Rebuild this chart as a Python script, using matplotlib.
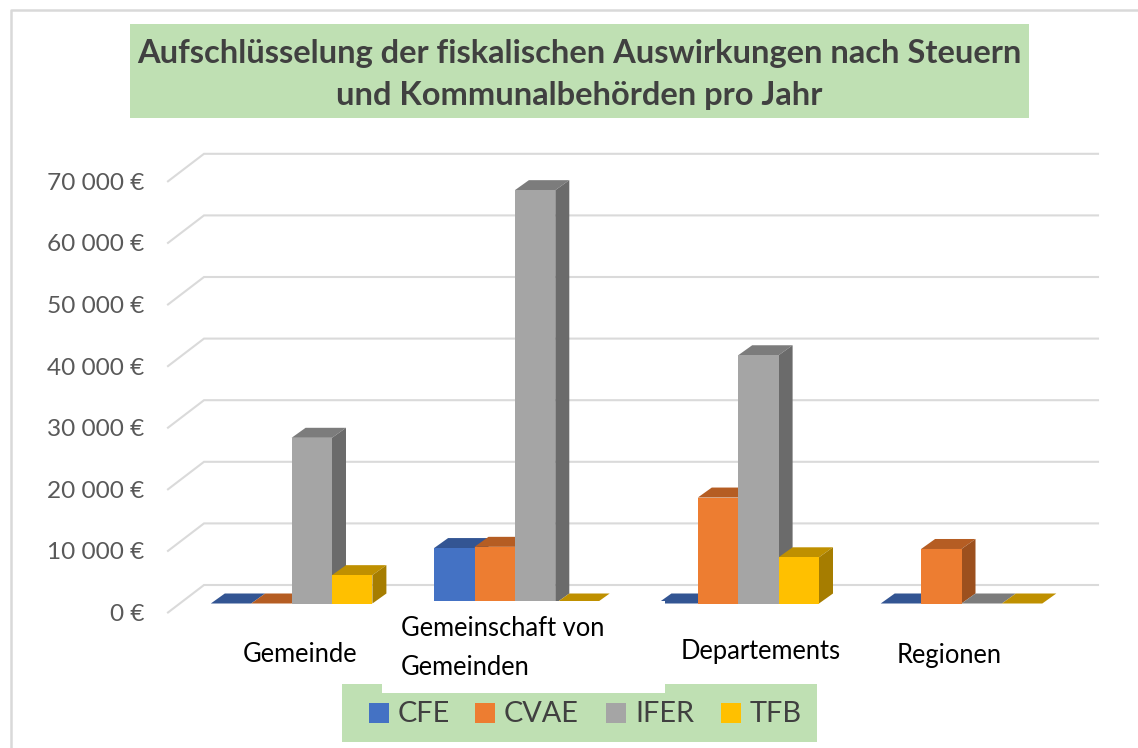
import matplotlib
matplotlib.use("Agg")
import matplotlib.pyplot as plt
from matplotlib.patches import Polygon, Rectangle

categories = ["Gemeinde", "Gemeinschaft von\nGemeinden", "Departements", "Regionen"]
series_names = ["CFE", "CVAE", "IFER", "TFB"]
cfe = [0, 9000, 0, 0]
cvae = [0, 9200, 17200, 8850]
ifer = [26900, 67100, 40300, 0]
tfb = [4600, 0, 7500, 0]
y_ticks = [0, 10000, 20000, 30000, 40000, 50000, 60000, 70000]
tick_labels = ["0 €", "10 000 €", "20 000 €", "30 000 €", "40 000 €", "50 000 €", "60 000 €", "70 000 €"]
front_colors = ["#4472C4", "#ED7D31", "#A5A5A5", "#FFC000"]
top_colors = ["#335593", "#B55D23", "#7C7C7C", "#BF9000"]
side_colors = ["#2A4A80", "#9C501E", "#6B6B6B", "#A67D00"]

W, H = 1138, 748
plt.rcParams["font.family"] = ["Lato", "DejaVu Sans"]
fig = plt.figure(figsize=(W / 100, H / 100), dpi=100, facecolor="white")
ax = fig.add_axes([0, 0, 1, 1])
ax.axis("off")

PX_X = 223.3      # pixels per category
PX_Y = 61.6 / 10000  # pixels per euro
X0, Y0 = 291.6, 603.5
ax.set_xlim((0 - X0) / PX_X, (W - X0) / PX_X)
ax.set_ylim((Y0 - H) / PX_Y, Y0 / PX_Y)

bar_w = 40.4 / PX_X
depth_x = 14 / PX_X
depth_y = 10 / PX_Y
back_y = 18.5 / PX_Y
front_y = -9.0 / PX_Y
wall_dx = 36 / PX_X
wall_left = (204 - X0) / PX_X
wall_right = (1098 - X0) / PX_X


def fx(x):
    return x / W


def fy(y):
    return 1 - y / H


# walls / gridlines
for v in y_ticks:
    ax.plot([wall_left - wall_dx, wall_left, wall_right],
            [v + front_y, v + back_y, v + back_y],
            color="#DADADA", lw=1.5, zorder=1, solid_joinstyle="miter")

# bars
series = [cfe, cvae, ifer, tfb]
for g in range(len(categories)):
    for s, vals in enumerate(series):
        v = vals[g]
        x0 = g + (s - 2) * bar_w
        x1 = x0 + bar_w
        z = 2 + g + s * 0.1
        ax.add_patch(Polygon([(x0, v), (x1, v), (x1 + depth_x, v + depth_y), (x0 + depth_x, v + depth_y)],
                             closed=True, fc=top_colors[s], ec="none", zorder=z))
        if v > 0:
            ax.add_patch(Polygon([(x1, 0), (x1 + depth_x, depth_y), (x1 + depth_x, v + depth_y), (x1, v)],
                                 closed=True, fc=side_colors[s], ec="none", zorder=z))
            ax.add_patch(Rectangle((x0, 0), bar_w, v, fc=front_colors[s], ec="none", zorder=z + 0.01))

# chart frame
fig.add_artist(plt.Line2D([fx(11), fx(11), fx(W)], [fy(H), fy(10), fy(10)], color="#D9D9D9", lw=1.8, zorder=5))

# title box
GREEN = "#BFE0B3"
fig.add_artist(Rectangle((fx(130), fy(118)), (1029 - 130) / W, 94 / H, fc=GREEN, ec="none",
                         transform=fig.transFigure, zorder=6))
fig.text(fx(579.5), fy(53.5), "Aufschlüsselung der fiskalischen Auswirkungen nach Steuern",
         ha="center", va="center", fontsize=23.5, fontweight="bold", color="#404040", zorder=7)
fig.text(fx(579), fy(95.5), "und Kommunalbehörden pro Jahr",
         ha="center", va="center", fontsize=23.5, fontweight="bold", color="#404040", zorder=7)

# y tick labels
for v, lab in zip(y_ticks, tick_labels):
    ax.annotate(lab, xy=(wall_left - wall_dx, v + front_y), xytext=(-24 * 0.72, -2 * 0.72),
                textcoords="offset points", ha="right", va="center", fontsize=17.6, color="#595959", zorder=8)

# white patch behind the second category label and legend box
fig.add_artist(Rectangle((fx(342), fy(742)), (817 - 342) / W, 58 / H, fc=GREEN, ec="none",
                         transform=fig.transFigure, zorder=6))
fig.add_artist(Rectangle((fx(382), fy(693)), (665 - 382) / W, 92 / H, fc="white", ec="none",
                         transform=fig.transFigure, zorder=6.5))

# category labels
label_pos = [(300.5, 655, "center"), (401, 648, "left"), (760.5, 651, "center"), (949, 655, "center")]
for (x, y, ha), lab in zip(label_pos, categories):
    fig.text(fx(x), fy(y), lab, ha=ha, va="center", fontsize=18.4, color="black",
             linespacing=1.7, zorder=8)

# legend
swatch_x = [369, 475, 606, 721]
text_x = [398, 504, 635, 750]
for sx, tx, c, name in zip(swatch_x, text_x, front_colors, series_names):
    fig.add_artist(Rectangle((fx(sx), fy(723)), 20 / W, 20 / H, fc=c, ec="none",
                             transform=fig.transFigure, zorder=7))
    fig.text(fx(tx), fy(714), name, ha="left", va="center", fontsize=20.8, color="#404040", zorder=8)

fig.savefig("out.png", dpi=100, facecolor="white")
